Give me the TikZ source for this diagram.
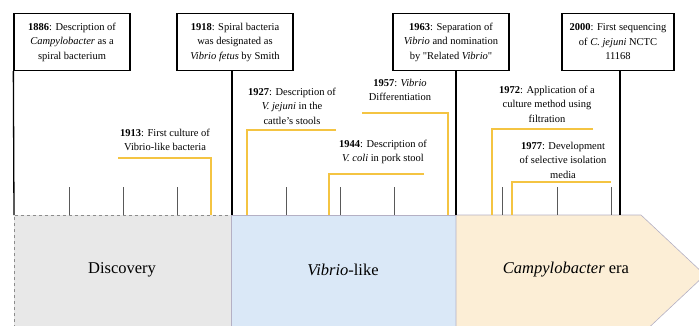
\documentclass[tikz,border=0pt]{standalone}
\usepackage{fontspec}
\setmainfont{Liberation Serif}
\definecolor{callyellow}{RGB}{244,196,66}
\definecolor{discgray}{RGB}{232,232,232}
\definecolor{vibblue}{RGB}{218,232,247}
\definecolor{campeach}{RGB}{252,238,214}
\definecolor{bandline}{RGB}{180,176,196}
\begin{document}
\begin{tikzpicture}[x=1pt,y=-1pt,
	event/.style={draw,line width=1.3pt,minimum width=116pt,minimum height=57pt,
		align=center,inner sep=1pt,font=\fontsize{10.5}{14.5}\selectfont},
	note/.style={align=center,inner sep=0pt,font=\fontsize{10.5}{14.5}\selectfont},
	era/.style={font=\fontsize{16.5}{18}\selectfont},
	major/.style={line width=1.3pt},
	minor/.style={draw=black!65,line width=0.7pt},
	callout/.style={draw=callyellow,line width=1.3pt}]
\useasboundingbox (0,0) rectangle (699,326);
% eras
\fill[discgray] (14,215) rectangle (231,340);
\draw[dashed,black!45,line width=0.6pt] (14,340) -- (14,215) -- (231,215);
\filldraw[fill=vibblue,draw=bandline,line width=0.5pt] (231,215) rectangle (456,340);
\filldraw[fill=campeach,draw=bandline,line width=0.6pt] (456,340) -- (456,215) -- (641,215) -- (705,275) -- (641,335) -- (641,340);
\node[era] (disc) at (122,270) {Discovery};
\node[era] (vib) at (343,270) {\textit{Vibrio}-like};
\node[era] (camp) at (566,270) {\textit{Campylobacter} era};
% boxed events
\node[event] (e1886) at (72,42) {\textbf{1886}: Description of\\\textit{Campylobacter} as a\\spiral bacterium};
\node[event] (e1918) at (235,42) {\textbf{1918}: Spiral bacteria\\was designated as\\\textit{Vibrio fetus} by Smith};
\node[event] (e1963) at (451,42) {\textbf{1963}: Separation of\\\textit{Vibrio} and nomination\\by \textquotedbl Related \textit{Vibrio}\textquotedbl};
\node[event,minimum width=112pt] (e2000) at (618,42) {\textbf{2000}: First sequencing\\of \textit{C. jejuni} NCTC\\11168};
\coordinate (t1886) at (14,215);
\coordinate (t1918) at (232,215);
\coordinate (t1963) at (456,215);
\coordinate (t2000) at (620,215);
\draw[major] (e1886.south west) -- (t1886);
\draw[major] (e1918.south -| t1918) -- (t1918);
\draw[major] (e1963.south -| t1963) -- (t1963);
\draw[major] (e2000.south -| t2000) -- (t2000);
% ticks
\foreach \x in {69,123,177,286,340,394,502,557,611}
	\draw[minor] (\x,187) -- (\x,215);
% callouts
\node[note] (n1913) at (165,140) {\textbf{1913}: First culture of\\Vibrio-like bacteria};
\node[note] (n1927) at (292,106) {\textbf{1927}: Description of\\\textit{V. jejuni} in the\\cattle's stools};
\node[note] (n1944) at (383,152) {\textbf{1944}: Description of\\\textit{V. coli} in pork stool};
\node[note] (n1957) at (400,90) {\textbf{1957}: \textit{Vibrio}\\Differentiation};
\node[note] (n1972) at (547,104) {\textbf{1972}: Application of a\\culture method using\\filtration};
\node[note] (n1977) at (563,160) {\textbf{1977}: Development\\of selective isolation\\media};
\draw[callout] (118,158) coordinate (a1913) -- (211,158) -- (211,215) coordinate (b1913);
\draw[callout] (336,130) coordinate (a1927) -- (247,130) -- (247,215) coordinate (b1927);
\draw[callout] (424,174) coordinate (a1944) -- (329,174) -- (329,215) coordinate (b1944);
\draw[callout] (362,113) coordinate (a1957) -- (448,113) -- (448,215) coordinate (b1957);
\draw[callout] (593,129) coordinate (a1972) -- (492,129) -- (492,215) coordinate (b1972);
\draw[callout] (611,182) coordinate (a1977) -- (512,182) -- (512,215) coordinate (b1977);
\end{tikzpicture}
\end{document}
